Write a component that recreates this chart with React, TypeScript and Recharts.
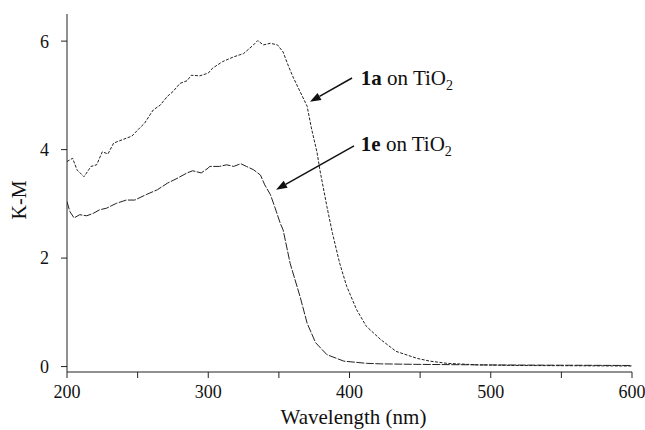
import { LineChart, Line, XAxis, YAxis, ReferenceLine, ReferenceDot } from "recharts";

// 1a on TiO2 (upper curve)
const wl1a = [200, 204, 207, 212, 217, 221, 225, 229, 233, 239, 246, 250, 255, 261, 266, 271, 275, 280, 285, 288, 294, 300, 303, 310, 318, 325, 332, 335, 339, 344, 349, 353, 356, 360, 365, 370, 373, 377, 379, 384, 388, 393, 398, 405, 412, 422, 433, 448, 457, 469, 492, 520, 560, 600];
const km1a = [3.78, 3.84, 3.63, 3.5, 3.69, 3.72, 3.96, 3.92, 4.12, 4.18, 4.25, 4.36, 4.49, 4.73, 4.82, 4.98, 5.07, 5.22, 5.27, 5.37, 5.36, 5.41, 5.5, 5.62, 5.71, 5.77, 5.93, 6.01, 5.93, 5.96, 5.93, 5.8, 5.59, 5.34, 5.07, 4.8, 4.4, 3.95, 3.63, 2.95, 2.45, 1.91, 1.48, 1.05, 0.74, 0.5, 0.28, 0.15, 0.1, 0.06, 0.03, 0.02, 0.015, 0.01];

// 1e on TiO2 (lower curve)
const wl1e = [200, 202, 205, 209, 214, 219, 223, 228, 235, 242, 248, 256, 264, 271, 278, 285, 289, 295, 300, 301, 308, 313, 318, 323, 327, 332, 337, 340, 344, 347, 351, 353, 358, 365, 370, 376, 384, 396, 412, 422, 450, 500, 550, 600];
const km1e = [3.04, 2.86, 2.74, 2.8, 2.78, 2.83, 2.89, 2.92, 3.01, 3.07, 3.07, 3.17, 3.26, 3.38, 3.47, 3.57, 3.61, 3.57, 3.66, 3.69, 3.69, 3.72, 3.69, 3.74, 3.69, 3.63, 3.53, 3.35, 3.17, 2.95, 2.64, 2.52, 1.9, 1.29, 0.8, 0.44, 0.22, 0.1, 0.06, 0.05, 0.04, 0.03, 0.025, 0.02];

const xTicks = [200, 250, 300, 350, 400, 450, 500, 550, 600];
const yTicks = [0, 2, 4, 6];

const data1a = wl1a.map((nm, i) => ({ nm, km: km1a[i] }));
const data1e = wl1e.map((nm, i) => ({ nm, km: km1e[i] }));

const FONT = "'Liberation Serif', 'Times New Roman', serif";
const INK = "#111";

const XTick = (props: any) => {
  const { x, y, payload } = props;
  if (payload.value % 100 !== 0) return null;
  return (
    <text x={x} y={y} dy="0.71em" textAnchor="middle" fontFamily={FONT} fontSize={18} fill={INK}>
      {payload.value}
    </text>
  );
};

const Arrow = (p: any) => {
  const { x1, y1, x2, y2 } = p;
  const ang = Math.atan2(y2 - y1, x2 - x1);
  const L = 11;
  const W = 4;
  const bx = x2 - L * Math.cos(ang);
  const by = y2 - L * Math.sin(ang);
  const nx = -Math.sin(ang) * W;
  const ny = Math.cos(ang) * W;
  return (
    <g>
      <line x1={x1} y1={y1} x2={bx} y2={by} stroke={INK} strokeWidth={1.5} />
      <polygon points={`${x2},${y2} ${bx + nx},${by + ny} ${bx - nx},${by - ny}`} fill={INK} />
    </g>
  );
};

const tag = (name: string) => (p: any) => (
  <text x={p.cx} y={p.cy} fontFamily={FONT} fontSize={21} fill={INK}>
    <tspan fontWeight="bold">{name}</tspan>
    <tspan> on TiO</tspan>
    <tspan fontSize={14} dy={5}>2</tspan>
  </text>
);

export default function App() {
  return (
    <div style={{ position: "absolute", left: 0, top: 0, background: "#fff", fontFamily: FONT }}>
      <LineChart width={645} height={430} margin={{ top: 14, right: 13, bottom: 0, left: 0 }}>
        <XAxis
          dataKey="nm"
          type="number"
          domain={[200, 600]}
          ticks={xTicks}
          allowDataOverflow
          height={58}
          stroke="#222"
          tickSize={6}
          tickMargin={7}
          tick={<XTick />}
          label={{
            content: (p: any) => (
              <text
                x={p.viewBox.x + p.viewBox.width / 2 + 4}
                y={p.viewBox.y + 52}
                textAnchor="middle"
                fontFamily={FONT}
                fontSize={21}
                fill={INK}
              >
                Wavelength (nm)
              </text>
            ),
          }}
        />
        <XAxis xAxisId="top" orientation="top" type="number" domain={[200, 600]} height={0} tick={false} tickLine={false} stroke="#222" />
        <YAxis
          type="number"
          domain={[-0.1, 6.5]}
          ticks={yTicks}
          allowDataOverflow
          width={67}
          stroke="#222"
          tickSize={6}
          tickMargin={12}
          tick={{ fontFamily: FONT, fontSize: 18, fill: INK }}
          label={{
            content: (p: any) => {
              const cx = 19;
              const cy = p.viewBox.y + p.viewBox.height / 2 + 7;
              return (
                <text
                  x={cx}
                  y={cy}
                  transform={`rotate(-90 ${cx} ${cy})`}
                  textAnchor="middle"
                  dominantBaseline="central"
                  fontFamily={FONT}
                  fontSize={20}
                  fill={INK}
                >
                  K-M
                </text>
              );
            },
          }}
        />
        <YAxis yAxisId="right" orientation="right" type="number" domain={[-0.1, 6.5]} width={0} tick={false} tickLine={false} stroke="#222" />
        <Line
          data={data1a}
          dataKey="km"
          type="linear"
          stroke="#222"
          strokeWidth={1}
          strokeDasharray="3 1.5"
          dot={false}
          isAnimationActive={false}
        />
        <Line
          data={data1e}
          dataKey="km"
          type="linear"
          stroke="#222"
          strokeWidth={1}
          strokeDasharray="8 1.5"
          dot={false}
          isAnimationActive={false}
        />
        <ReferenceLine segment={[{ x: 401.8, y: 5.32 }, { x: 372, y: 4.88 }]} shape={Arrow} />
        <ReferenceLine segment={[{ x: 403.2, y: 4.07 }, { x: 348, y: 3.26 }]} shape={Arrow} />
        <ReferenceDot x={408} y={5.2} r={0} shape={tag("1a")} />
        <ReferenceDot x={408} y={3.97} r={0} shape={tag("1e")} />
      </LineChart>
    </div>
  );
}
